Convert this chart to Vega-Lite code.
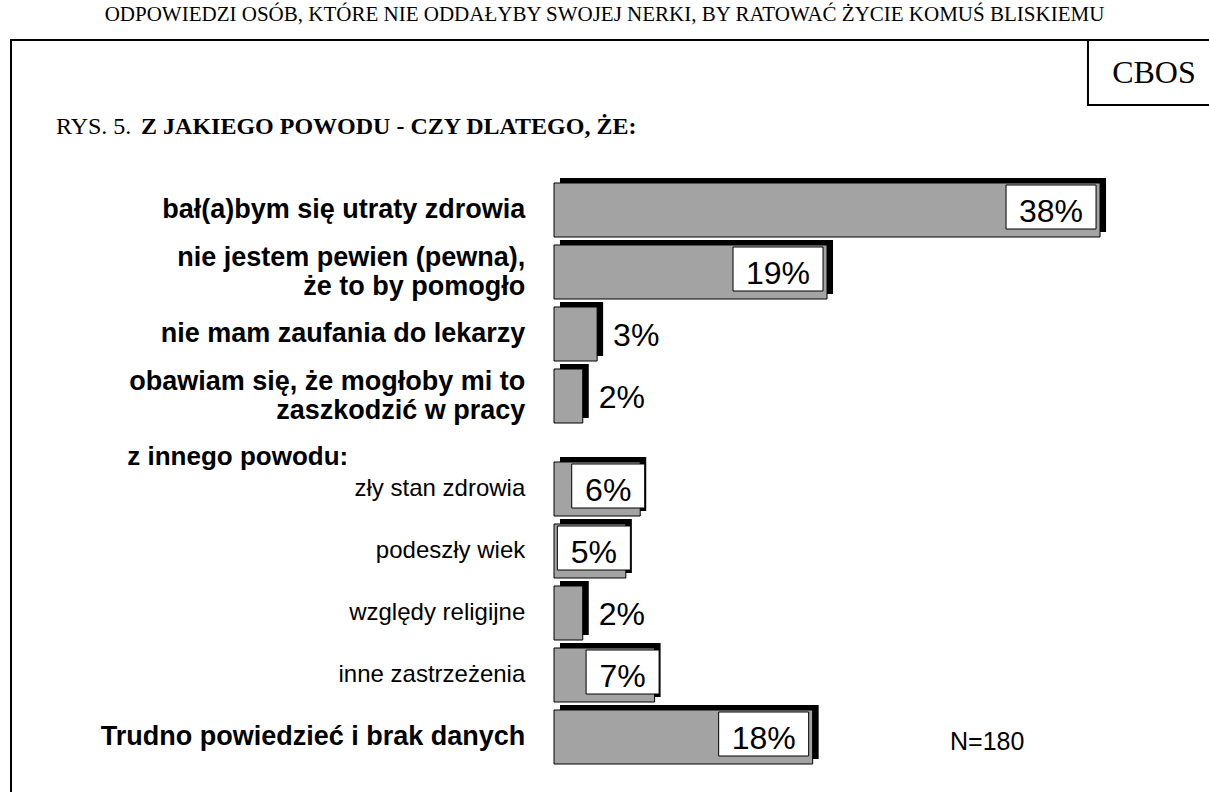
{
  "$schema": "https://vega.github.io/schema/vega-lite/v6.json",
  "width": 1205,
  "height": 760,
  "autosize": {"type": "none"},
  "padding": {"left": 11, "top": 40, "right": 0, "bottom": 0},
  "background": "white",
  "title": {
    "text": "ODPOWIEDZI OSÓB, KTÓRE NIE ODDAŁYBY SWOJEJ NERKI, BY RATOWAĆ ŻYCIE KOMUŚ BLISKIEMU",
    "font": "Liberation Serif",
    "fontSize": 21,
    "fontWeight": "normal",
    "color": "black",
    "anchor": "middle",
    "dx": -9,
    "offset": 14
  },
  "config": {
    "view": {"stroke": "black", "strokeWidth": 2},
    "text": {"font": "Liberation Sans", "color": "black"},
    "axis": {"domain": false, "labels": false, "ticks": false, "grid": false, "title": null}
  },
  "datasets": {
    "odpowiedzi": [
      {"sekcja": "A", "poziom": "główny", "kategoria": "bał(a)bym się utraty zdrowia", "wartosc": 0.38},
      {"sekcja": "A", "poziom": "główny", "kategoria": "nie jestem pewien (pewna),\nże to by pomogło", "wartosc": 0.19},
      {"sekcja": "A", "poziom": "główny", "kategoria": "nie mam zaufania do lekarzy", "wartosc": 0.03},
      {"sekcja": "A", "poziom": "główny", "kategoria": "obawiam się, że mogłoby mi to\nzaszkodzić w pracy", "wartosc": 0.02},
      {"sekcja": "B", "poziom": "szczegółowy", "kategoria": "zły stan zdrowia", "wartosc": 0.06},
      {"sekcja": "B", "poziom": "szczegółowy", "kategoria": "podeszły wiek", "wartosc": 0.05},
      {"sekcja": "B", "poziom": "szczegółowy", "kategoria": "względy religijne", "wartosc": 0.02},
      {"sekcja": "B", "poziom": "szczegółowy", "kategoria": "inne zastrzeżenia", "wartosc": 0.07},
      {"sekcja": "B", "poziom": "główny", "kategoria": "Trudno powiedzieć i brak danych", "wartosc": 0.18}
    ]
  },
  "layer": [
    {
      "data": {"name": "odpowiedzi"},
      "transform": [{"filter": "datum.sekcja == 'A'"}],
      "encoding": {
        "y": {"field": "kategoria", "type": "nominal", "sort": null, "axis": null,
              "scale": {"range": [139, 387], "paddingInner": 0.129, "paddingOuter": 0.0645}},
        "x": {"field": "wartosc", "type": "quantitative", "axis": null,
              "scale": {"domain": [-0.3779, 0.4607], "nice": false, "zero": false}}
      },
      "layer": [
        {"mark": {"type": "bar", "color": "black", "xOffset": 6, "yOffset": -5}},
        {"mark": {"type": "bar", "fill": "#a3a3a3", "stroke": "black", "strokeWidth": 1}},
        {"transform": [{"filter": "indexof(datum.kategoria, '\\n') < 0"}],
         "mark": {"type": "text", "align": "right", "baseline": "middle", "fontSize": 27, "fontWeight": "bold", "dy": 0},
         "encoding": {"x": {"datum": -0.02, "type": "quantitative"}, "text": {"field": "kategoria"}}},
        {"transform": [{"filter": "indexof(datum.kategoria, '\\n') >= 0"}],
         "mark": {"type": "text", "align": "right", "baseline": "middle", "fontSize": 27, "fontWeight": "bold", "lineBreak": "\n", "lineHeight": 29, "dy": -14},
         "encoding": {"x": {"datum": -0.02, "type": "quantitative"}, "text": {"field": "kategoria"}}},
        {"transform": [{"filter": "datum.wartosc >= 0.1"}],
         "mark": {"type": "tick", "thickness": 90, "fill": "white", "stroke": "black", "strokeWidth": 1, "opacity": 1, "xOffset": -49, "yOffset": -3},
         "encoding": {"size": {"value": 44}}},
        {"transform": [{"filter": "datum.wartosc >= 0.1"}],
         "mark": {"type": "text", "align": "center", "baseline": "alphabetic", "fontSize": 32, "dx": -49, "dy": 12},
         "encoding": {"text": {"field": "wartosc", "type": "quantitative", "format": ".0%"}}},
        {"transform": [{"filter": "datum.wartosc < 0.05"}],
         "mark": {"type": "text", "align": "left", "baseline": "alphabetic", "fontSize": 32, "dx": 16, "dy": 12},
         "encoding": {"text": {"field": "wartosc", "type": "quantitative", "format": ".0%"}}}
      ]
    },
    {
      "data": {"name": "odpowiedzi"},
      "transform": [{"filter": "datum.sekcja == 'B'"}],
      "encoding": {
        "y": {"field": "kategoria", "type": "nominal", "sort": null, "axis": null,
              "scale": {"range": [418, 728], "paddingInner": 0.129, "paddingOuter": 0.0645}},
        "x": {"field": "wartosc", "type": "quantitative", "axis": null,
              "scale": {"domain": [-0.3779, 0.4607], "nice": false, "zero": false}}
      },
      "layer": [
        {"mark": {"type": "bar", "color": "black", "xOffset": 6, "yOffset": -5}},
        {"mark": {"type": "bar", "fill": "#a3a3a3", "stroke": "black", "strokeWidth": 1}},
        {"transform": [{"filter": "datum.poziom == 'główny'"}],
         "mark": {"type": "text", "align": "right", "baseline": "middle", "fontSize": 27, "fontWeight": "bold", "dy": 0},
         "encoding": {"x": {"datum": -0.02, "type": "quantitative"}, "text": {"field": "kategoria"}}},
        {"transform": [{"filter": "datum.poziom == 'szczegółowy'"}],
         "mark": {"type": "text", "align": "right", "baseline": "middle", "fontSize": 24, "fontWeight": "normal", "dy": 0},
         "encoding": {"x": {"datum": -0.02, "type": "quantitative"}, "text": {"field": "kategoria"}}},
        {"transform": [{"filter": "datum.wartosc >= 0.1"}],
         "mark": {"type": "tick", "thickness": 90, "fill": "white", "stroke": "black", "strokeWidth": 1, "opacity": 1, "xOffset": -49, "yOffset": -3},
         "encoding": {"size": {"value": 44}}},
        {"transform": [{"filter": "datum.wartosc >= 0.05 && datum.wartosc < 0.1"}],
         "mark": {"type": "tick", "thickness": 73, "fill": "white", "stroke": "black", "strokeWidth": 1, "opacity": 1, "xOffset": -32, "yOffset": -3},
         "encoding": {"size": {"value": 44}}},
        {"transform": [{"filter": "datum.wartosc >= 0.1"}],
         "mark": {"type": "text", "align": "center", "baseline": "alphabetic", "fontSize": 32, "dx": -49, "dy": 12},
         "encoding": {"text": {"field": "wartosc", "type": "quantitative", "format": ".0%"}}},
        {"transform": [{"filter": "datum.wartosc >= 0.05 && datum.wartosc < 0.1"}],
         "mark": {"type": "text", "align": "center", "baseline": "alphabetic", "fontSize": 32, "dx": -32, "dy": 12},
         "encoding": {"text": {"field": "wartosc", "type": "quantitative", "format": ".0%"}}},
        {"transform": [{"filter": "datum.wartosc < 0.05"}],
         "mark": {"type": "text", "align": "left", "baseline": "alphabetic", "fontSize": 32, "dx": 16, "dy": 12},
         "encoding": {"text": {"field": "wartosc", "type": "quantitative", "format": ".0%"}}},
        {"transform": [{"filter": "datum.kategoria == 'zły stan zdrowia'"}],
         "mark": {"type": "text", "align": "left", "baseline": "middle", "fontSize": 26, "fontWeight": "bold", "dy": -32},
         "encoding": {"x": {"datum": -0.297, "type": "quantitative"}, "text": {"value": "z innego powodu:"}}},
        {"transform": [{"filter": "datum.kategoria == 'Trudno powiedzieć i brak danych'"}],
         "mark": {"type": "text", "align": "left", "baseline": "middle", "fontSize": 25, "dy": 5},
         "encoding": {"x": {"datum": 0.2756, "type": "quantitative"}, "text": {"value": "N=180"}}}
      ]
    },
    {
      "data": {"values": [{}]},
      "encoding": {
        "y": {"datum": "CBOS", "type": "nominal", "axis": null,
              "scale": {"domain": ["CBOS", "RYS"], "range": [0, 130], "paddingInner": 0, "paddingOuter": 0}}
      },
      "layer": [
        {"mark": {"type": "rect", "fill": "white", "stroke": "black", "strokeWidth": 2},
         "encoding": {"x": {"datum": 0.3716, "type": "quantitative", "axis": null}, "x2": {"datum": 0.5}}},
        {"mark": {"type": "text", "align": "center", "baseline": "middle", "font": "Liberation Serif", "fontSize": 32},
         "encoding": {"x": {"datum": 0.4175, "type": "quantitative", "axis": null}, "text": {"value": "CBOS"}}},
        {"mark": {"type": "text", "align": "left", "baseline": "middle", "font": "Liberation Serif", "fontSize": 24, "dy": -11},
         "encoding": {"x": {"datum": -0.3466, "type": "quantitative", "axis": null}, "y": {"datum": "RYS", "type": "nominal"}, "text": {"value": "RYS. 5."}}},
        {"mark": {"type": "text", "align": "left", "baseline": "middle", "font": "Liberation Serif", "fontSize": 24, "fontWeight": "bold", "dy": -11},
         "encoding": {"x": {"datum": -0.2874, "type": "quantitative", "axis": null}, "y": {"datum": "RYS", "type": "nominal"}, "text": {"value": "Z JAKIEGO POWODU - CZY DLATEGO, ŻE:"}}}
      ]
    }
  ],
  "resolve": {"scale": {"y": "independent"}}
}
